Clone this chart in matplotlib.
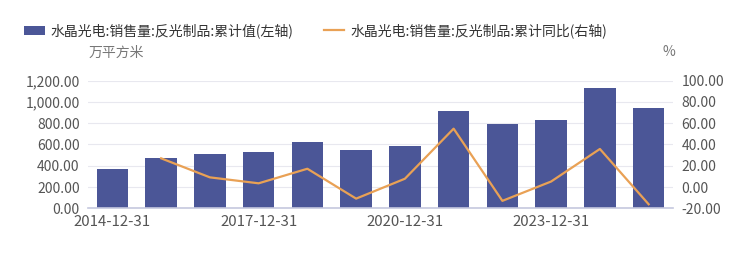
import numpy as np
import matplotlib.pyplot as plt
from matplotlib.ticker import FuncFormatter

plt.rcParams['font.family'] = ['Noto Sans CJK SC', 'DejaVu Sans']

years = ['2014-12-31', '2015-12-31', '2016-12-31', '2017-12-31', '2018-12-31', '2019-12-31',
         '2020-12-31', '2021-12-31', '2022-12-31', '2023-12-31', '2024-12-31', '2025-12-31']
sales = [370, 470, 511, 530, 621, 551, 589, 912, 793, 831, 1129, 944]
yoy = [np.nan, 27.0, 9.1, 3.5, 17.2, -10.9, 7.8, 54.9, -13.0, 5.2, 35.8, -16.2]

bar_label = '水晶光电:销售量:反光制品:累计值(左轴)'
line_label = '水晶光电:销售量:反光制品:累计同比(右轴)'

bar_color = '#4b5697'
line_color = '#e9a155'
text_color = '#555555'

fig = plt.figure(figsize=(7.54, 2.76), dpi=100)
ax = fig.add_axes([0.1167, 0.2453, 0.7759, 0.4623])
ax2 = ax.twinx()

x = np.arange(len(years))
ax.bar(x, sales, width=0.65, color=bar_color, zorder=2, label=bar_label)
ax2.plot(x, yoy, color=line_color, linewidth=1.6, zorder=3, label=line_label)

ax.set_xlim(-0.5, len(years) - 0.5)
ax.set_ylim(0, 1200)
ax.set_yticks(np.arange(0, 1201, 200))
ax2.set_ylim(-20, 100)
ax2.set_yticks(np.arange(-20, 101, 20))

fmt = FuncFormatter(lambda v, p: f'{v:,.2f}')
ax.yaxis.set_major_formatter(fmt)
ax2.yaxis.set_major_formatter(fmt)

ax.set_xticks(x[::3])
ax.set_xticklabels([years[i] for i in x[::3]])

ax.grid(True, axis='y', color='#e8e8ef', linewidth=0.8, zorder=0)
ax.set_axisbelow(True)

for a in (ax, ax2):
    for s in ('top', 'left', 'right'):
        a.spines[s].set_visible(False)
    a.spines['bottom'].set_color('#c5c8de')
    a.spines['bottom'].set_linewidth(1.2)
    a.tick_params(axis='both', length=0, labelsize=10, colors=text_color)
ax2.spines['bottom'].set_visible(False)
ax.tick_params(axis='y', pad=6)
ax2.tick_params(axis='y', pad=6)
ax.tick_params(axis='x', pad=5, labelsize=10.8)

fig.text(0.118, 0.81, '万平方米', fontsize=10, color='#777777', ha='left', va='center')
fig.text(0.887, 0.81, '%', fontsize=10, color='#777777', ha='center', va='center')

h1, l1 = ax.get_legend_handles_labels()
h2, l2 = ax2.get_legend_handles_labels()
fig.legend(h1 + h2, l1 + l2, loc='center left', bbox_to_anchor=(0.015, 0.888), ncol=2,
           frameon=False, fontsize=10, handlelength=1.5, handleheight=0.7,
           handletextpad=0.4, columnspacing=2.2, labelcolor='#333333')

fig.savefig('out.png', dpi=100)
